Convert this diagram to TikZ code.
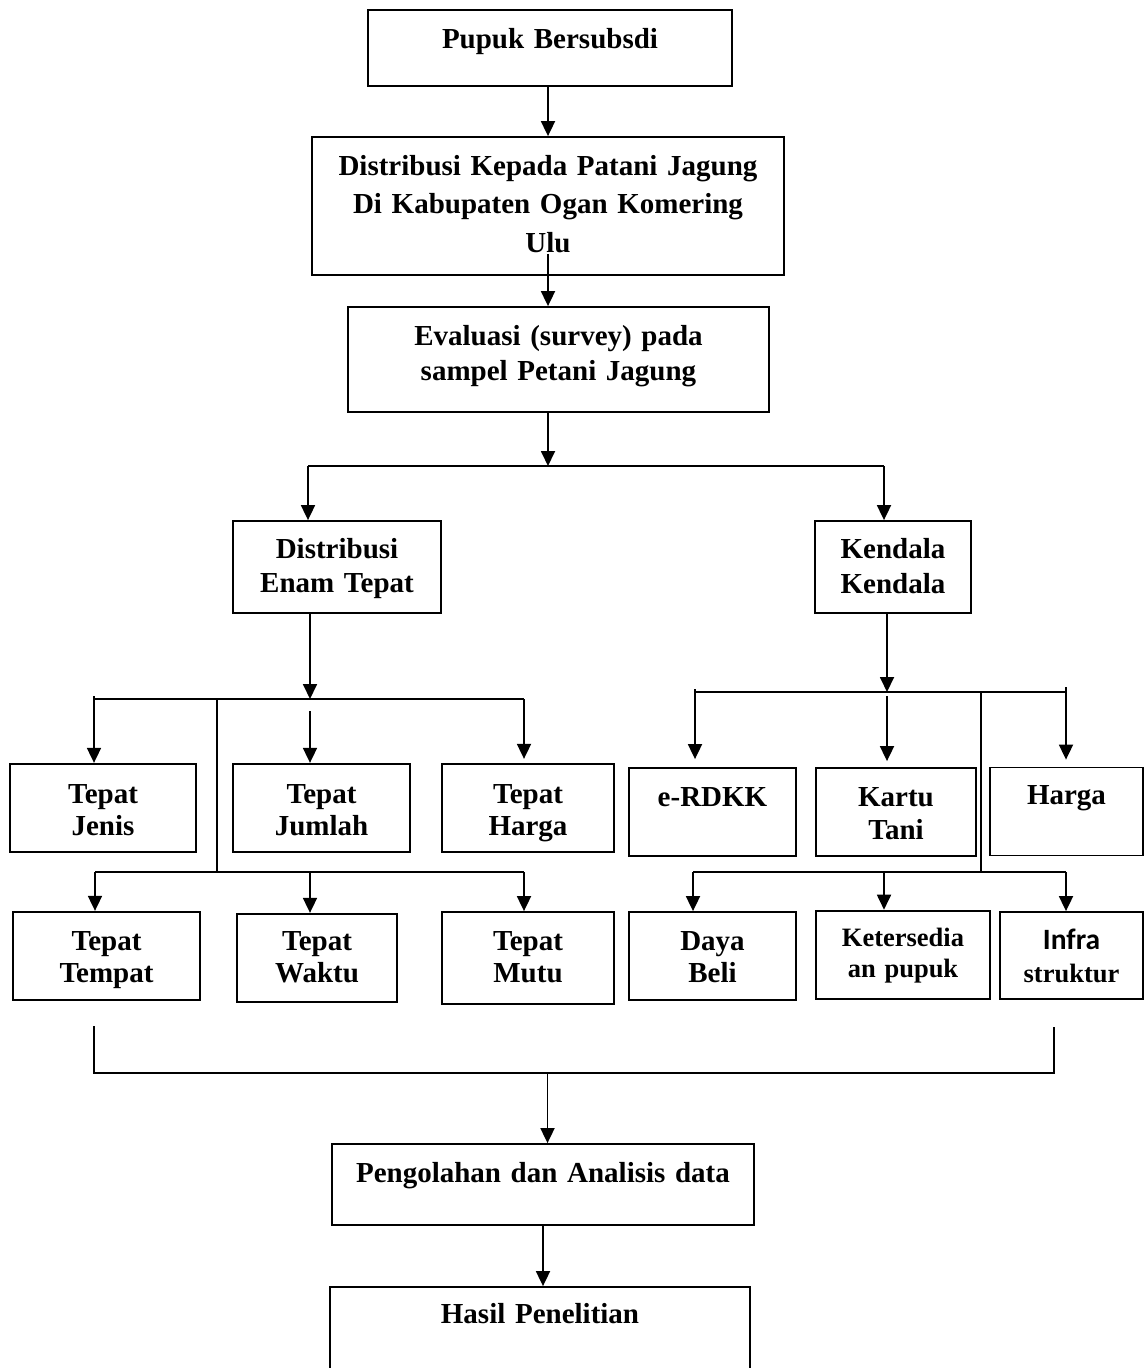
\documentclass[tikz,border=0pt]{standalone}
\usepackage{fontspec}
\setmainfont{Liberation Serif}
\newfontfamily\carlito{Carlito}
\usetikzlibrary{arrows.meta}
\begin{document}
\begin{tikzpicture}[x=1pt,y=-1pt,
  box/.style={draw, line width=1.8pt, inner sep=0pt, align=center, text height=20pt},
  conn/.style={line width=1.8pt},
  arr/.style={conn, -{Triangle[width=14pt,length=15pt]}},
  fs/.style 2 args={font=\fontsize{#1}{#2}\selectfont\bfseries}
]
\useasboundingbox (0,0) rectangle (1145,1368);
\fill[white] (0,0) rectangle (1145,1368);
\clip (0,0) rectangle (1145,1368);

% ---- top chain
\node[box, fs={29}{35}, text width=364pt, minimum height=76pt, text depth=20pt] (pupuk) at (550,48) {Pupuk Bersubsdi};
\node[box, fs={29}{38.5}, text width=472pt, minimum height=138pt, text depth=82pt] (dist) at (548,206) {Distribusi Kepada Patani Jagung\\ Di Kabupaten Ogan Komering\\ Ulu};
\node[box, fs={29}{35}, text width=421pt, minimum height=105pt, text depth=49pt] (eval) at (558.5,359.5) {Evaluasi (survey) pada\\ sampel Petani Jagung};

% ---- second level
\node[box, fs={29}{34}, text width=208pt, minimum height=92pt, text depth=38pt] (det) at (337,567) {Distribusi\\ Enam Tepat};
\node[box, fs={29}{35}, text width=155.5pt, minimum height=92pt, text depth=38pt] (kend) at (893,567) {Kendala\\ Kendala};

% ---- left leaves
\node[box, fs={29}{32}, text width=186pt, minimum height=88.5pt, text depth=30pt] (jenis) at (103,808) {Tepat\\ Jenis};
\node[box, fs={29}{32}, text width=177pt, minimum height=88.5pt, text depth=30pt] (jumlah) at (321.5,808) {Tepat\\ Jumlah};
\node[box, fs={29}{32}, text width=172pt, minimum height=88.5pt, text depth=30pt] (tharga) at (528,808) {Tepat\\ Harga};
\node[box, fs={29}{32.6}, text width=187pt, minimum height=88.5pt, text depth=32pt] (tempat) at (106.5,956) {Tepat\\ Tempat};
\node[box, fs={29}{32.6}, text width=160pt, minimum height=88.5pt, text depth=36pt] (waktu) at (317,958) {Tepat\\ Waktu};
\node[box, fs={29}{32.6}, text width=172pt, minimum height=92pt, text depth=36pt] (mutu) at (528,958) {Tepat\\ Mutu};

% ---- right leaves
\node[box, fs={29}{33}, text width=167pt, minimum height=88pt, text depth=31pt] (erdkk) at (712.5,812) {e-RDKK};
\node[box, fs={29}{33}, text width=160.5pt, minimum height=88pt, text depth=32pt] (kartu) at (896,812) {Kartu\\ Tani};
\node[box, fs={29}{33}, text width=153pt, minimum height=88pt, text depth=34pt] (harga) at (1066.5,811.5) {Harga};
\node[box, fs={29}{32.6}, text width=167pt, minimum height=88pt, text depth=32pt] (daya) at (712.5,956) {Daya\\ Beli};
\node[box, fs={26.5}{31}, text width=174.5pt, minimum height=88pt, text depth=37pt] (keter) at (903,954.6) {Ketersedia\\ an pupuk};
\node[box, fs={29.5}{33}, text width=143pt, minimum height=87pt, text depth=33pt] (infra) at (1071.5,955.5) {{\carlito Infra}\\ {\fontsize{26.5}{33}\selectfont struktur}};

% ---- bottom
\node[box, fs={29}{35}, text width=421.5pt, minimum height=81pt, text depth=25pt] (olah) at (543,1184.5) {Pengolahan dan Analisis data};
\node[box, fs={29}{35}, text width=420pt, minimum height=110pt, text depth=58pt] (hasil) at (540,1342) {Hasil Penelitian};

% ---- connectors: top chain
\draw[arr] (dist.north |- pupuk.south) -- (dist.north);
\draw[arr] ([yshift=22pt]dist.south) -- (dist.south |- eval.north);

\coordinate (b0) at (548,466);
\coordinate (bL) at (308,466);
\coordinate (bR) at (884,466);
\draw[arr] (b0 |- eval.south) -- (b0);
\draw[conn] (bL) -- (bR);
\draw[arr] (bL) -- (bL |- det.north);
\draw[arr] (bR) -- (bR |- kend.north);

% ---- left tree
\coordinate (l0) at (310,699);
\coordinate (lA) at (94,699);
\coordinate (lC) at (524,699);
\coordinate (lM) at (217,699);
\coordinate (lM2) at (217,872);
\coordinate (lA2) at (95,872);
\coordinate (lB2) at (310,872);
\coordinate (lC2) at (524,872);
\draw[arr] (l0 |- det.south) -- (l0);
\draw[conn] ([yshift=3pt]lA) -- (lA) -- (lC);
\draw[arr] (lA) -- (lA |- jenis.north);
\draw[arr] ([yshift=-12pt]l0) -- (l0 |- jumlah.north);
\draw[arr] (lC) -- ([yshift=4pt]lC |- tharga.north);
\draw[conn] (lM) -- (lM2);
\draw[conn] (lA2) -- (lC2);
\draw[arr] (lA2) -- (lA2 |- tempat.north);
\draw[arr] (lB2) -- (lB2 |- waktu.north);
\draw[arr] (lC2) -- (lC2 |- mutu.north);

% ---- right tree
\coordinate (r0) at (887,692);
\coordinate (rA) at (695,692);
\coordinate (rC) at (1066,692);
\coordinate (rM) at (981,692);
\coordinate (rM2) at (981,872);
\coordinate (rA2) at (693,872);
\coordinate (rB2) at (884,872);
\coordinate (rC2) at (1066,872);
\draw[arr] (r0 |- kend.south) -- (r0);
\draw[conn] ([yshift=3pt]rA) -- (rA) -- (rC) -- ([yshift=5pt]rC);
\draw[arr] (rA) -- ([yshift=8pt]rA |- erdkk.north);
\draw[arr] ([yshift=-4pt]r0) -- ([yshift=6pt]r0 |- kartu.north);
\draw[arr] (rC) -- ([yshift=7pt]rC |- harga.north);
\draw[conn] (rM) -- (rM2);
\draw[conn] (rA2) -- (rC2);
\draw[arr] (rA2) -- (rA2 |- daya.north);
\draw[arr] (rB2) -- (rB2 |- keter.north);
\draw[arr] (rC2) -- (rC2 |- infra.north);

% ---- bottom bracket
\coordinate (kL) at (94,1073);
\coordinate (kR) at (1054,1073);
\coordinate (k0) at (547.5,1073);
\draw[conn] ([yshift=47pt]kL) -- (kL) -- (kR) -- ([yshift=46pt]kR);
\draw[arr] (k0) -- (k0 |- olah.north);
\draw[arr] (olah.south) -- (olah.south |- hasil.north);
\end{tikzpicture}
\end{document}
